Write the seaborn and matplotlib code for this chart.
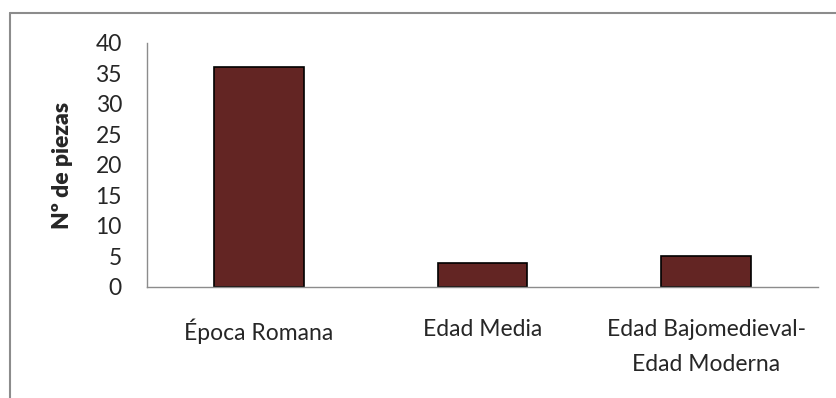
import pandas as pd
import seaborn as sns
import matplotlib.pyplot as plt
from matplotlib.lines import Line2D

# Data
categories = ["Época Romana", "Edad Media", "Edad Bajomedieval-\nEdad Moderna"]
piezas = [36, 4, 5]
yticks = [0, 5, 10, 15, 20, 25, 30, 35, 40]

df = pd.DataFrame({"periodo": categories, "piezas": piezas})

sns.set_style("white")
plt.rcParams['font.family'] = ['Lato', 'DejaVu Sans']

fig = plt.figure(figsize=(8.37, 3.98), dpi=100)
ax = fig.add_axes([0.1756, 0.279, 0.8017, 0.613])

sns.barplot(data=df, x="periodo", y="piezas", ax=ax, color="#632523",
            width=0.4, edgecolor="black", linewidth=1.2, saturation=1)

ax.set_ylim(0, 40)
ax.set_yticks(yticks)
ax.set_xlim(-0.5, 2.5)
ax.set_xlabel("")
ax.set_ylabel("Nº de piezas", fontsize=16.5, fontweight="heavy", labelpad=16)
ax.tick_params(axis='both', length=0, labelsize=16.5)
ax.tick_params(axis='x', pad=23)
ax.tick_params(axis='y', pad=18)
for lab in ax.get_xticklabels():
    lab.set_linespacing(1.8)

sns.despine(ax=ax)
for s in ['left', 'bottom']:
    ax.spines[s].set_color('#8c8c8c')
    ax.spines[s].set_linewidth(1.0)

# Outer chart frame (clipped at right and bottom)
fx0, fy0 = 10 / 837, 1 - 13 / 398
fig.add_artist(Line2D([fx0, 1.0], [fy0, fy0], color='#8c8c8c', lw=1.5,
                      transform=fig.transFigure))
fig.add_artist(Line2D([fx0, fx0], [fy0, 0.0], color='#8c8c8c', lw=1.5,
                      transform=fig.transFigure))

fig.savefig("out.png", dpi=100)
